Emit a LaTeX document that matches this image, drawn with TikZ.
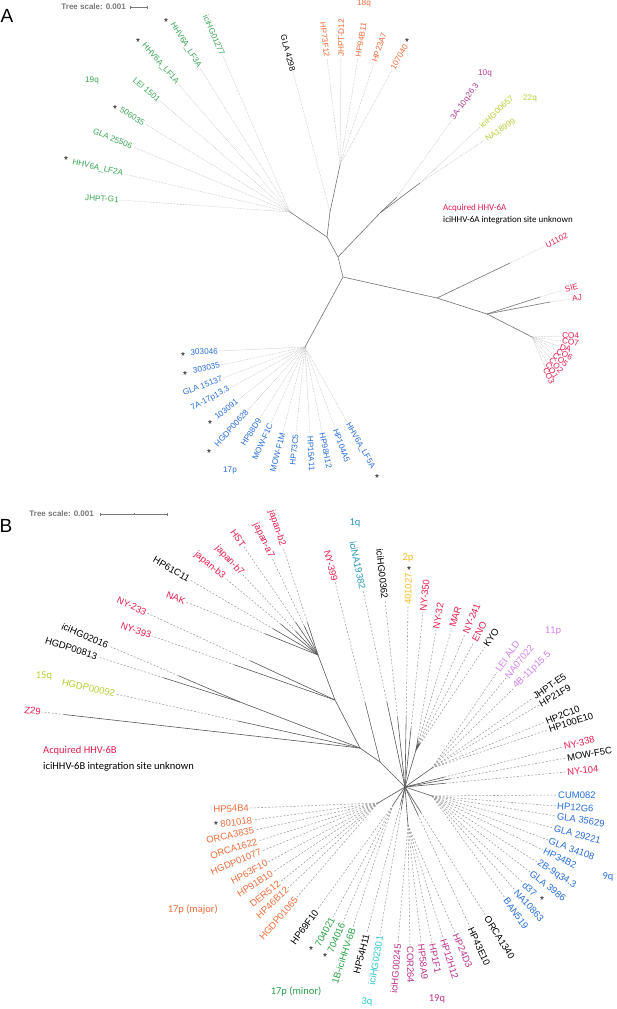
\documentclass[tikz,border=0pt]{standalone}
\usepackage{fontspec}
\setmainfont{Liberation Sans}
\newfontfamily\carl{Carlito}
\usetikzlibrary{calc}
\definecolor{cGa}{RGB}{58,166,85}
\definecolor{cGb}{RGB}{40,160,70}
\definecolor{cO}{RGB}{240,110,60}
\definecolor{cP}{RGB}{180,60,150}
\definecolor{cY}{RGB}{185,205,55}
\definecolor{cR}{RGB}{230,30,80}
\definecolor{cB}{RGB}{40,110,220}
\definecolor{cT}{RGB}{40,150,180}
\definecolor{cGo}{RGB}{245,190,40}
\definecolor{cL}{RGB}{210,130,240}
\definecolor{cC}{RGB}{40,200,210}
\definecolor{cM}{RGB}{190,50,140}
\definecolor{cS}{RGB}{120,120,120}
\newcounter{lfc}
\newcommand\lf[5]{%
  \stepcounter{lfc}%
  \edef\lfn{\arabic{lfc}}%
  \coordinate (e\lfn) at (#2);%
  \ifdim #3pt>0pt
    \coordinate (t\lfn) at ($(#1)!#3!(e\lfn)$);%
    \draw[lfbranch] (#1) -- (t\lfn);%
    \draw[lfline] (t\lfn) -- (e\lfn);%
  \else
    \draw[lfline] (#1) -- (e\lfn);%
  \fi
  \pgfpointdiff{\pgfpointanchor{#1}{center}}{\pgfpointanchor{e\lfn}{center}}%
  \pgfgetlastxy{\lfdx}{\lfdy}%
  \pgfmathsetmacro\lfang{atan2(\lfdy,\lfdx)}%
  \pgfmathsetmacro\lfside{abs(\lfang)>90 ? 1 : 0}%
  \ifdim\lfside pt>0.5pt
    \node[lflab,#5,rotate=\lfang+180,anchor=east] (n\lfn) at (e\lfn) {#4};%
  \else
    \node[lflab,#5,rotate=\lfang,anchor=west] (n\lfn) at (e\lfn) {#4};%
  \fi}
\begin{document}
\begin{tikzpicture}[x=1bp,y=-1bp,
  branchA/.style={draw=black!55,line width=0.6bp},
  dotA/.style={draw=black!25,line width=0.5bp,dash pattern=on 0.6bp off 0.9bp},
  branchB/.style={draw=black!65,line width=0.6bp},
  dashB/.style={draw=black!40,line width=0.55bp,dash pattern=on 1.8bp off 1.8bp},
  labA/.style={font=\fontsize{8.2bp}{9bp}\selectfont,inner sep=1bp},
  labB/.style={font=\fontsize{9.5bp}{10bp}\selectfont,inner sep=1bp},
  grpA/.style={font=\fontsize{8.2bp}{9bp}\selectfont,inner sep=0},
  grpB/.style={font=\carl\fontsize{10.5bp}{11bp}\selectfont,inner sep=0},
  ast/.style={font=\fontsize{10bp}{10bp}\selectfont,inner sep=0,yshift=-2bp},
  panel/.style={font=\fontsize{19bp}{20bp}\selectfont,inner sep=0},
  scaletxt/.style={font=\bfseries\fontsize{8bp}{9bp}\selectfont,text=cS,inner sep=0},
  scalebar/.style={draw=cS,line width=0.6bp},
  legA/.style={font=\carl\fontsize{9bp}{10bp}\selectfont,inner sep=0,anchor=west},
  legB/.style={font=\carl\fontsize{10.5bp}{11bp}\selectfont,inner sep=0,anchor=west}]
\fill[white] (0,0) rectangle (617,1009);
\useasboundingbox (0,0) rectangle (617,1009);

%%%%%%%%%%%%%%%% PANEL A
\node[panel] (pA) at (7,16) {A};
\node[scaletxt,anchor=east] (stA) at (126,7) {Tree scale: 0.001};
\coordinate (sa1) at (130,7); \coordinate (sa2) at (147,7);
\draw[scalebar] (sa1) -- (sa2);
\draw[scalebar] ([yshift=1.5bp]sa1) -- ([yshift=-1.5bp]sa1);
\draw[scalebar] ([yshift=1.5bp]sa2) -- ([yshift=-1.5bp]sa2);

\tikzset{lfline/.style=dotA, lfbranch/.style=branchA, lflab/.style=labA}
\coordinate (rA) at (338,257);
\coordinate (sA) at (343,277);
\coordinate (aA) at (327,237);
\coordinate (h19) at (290,212);
\coordinate (bA) at (330,212);
\coordinate (h18) at (340,165);
\coordinate (vA) at (380,213);
\coordinate (wA) at (397,197);
\coordinate (h22) at (420,183);
\coordinate (h17) at (305,347);
\coordinate (tA) at (437,298);
\coordinate (uA) at (487,314);
\coordinate (hCO) at (532,337);
\coordinate (w1) at (510,263);
\coordinate (w2) at (540,297);
\coordinate (w3) at (550,302);
\draw[branchA] (h19) -- (aA) -- (rA) -- (sA) -- (h17);
\draw[branchA] (aA) -- (bA) -- (h18);
\draw[branchA] (rA) -- (vA) -- (wA);
\draw[branchA] (vA) -- (h22);
\draw[branchA] (sA) -- (tA) -- (uA) -- (hCO);
\draw[branchA] (tA) -- (w1);
\draw[branchA] (uA) -- (w2);
\draw[branchA] (uA) -- (w3);

\lf{h19}{120,200}{0}{JHPT-G1}{text=cGa}
\lf{h19}{124,174}{0}{HHV6A\_LF2A}{text=cGa}
\lf{h19}{133,147}{0}{GLA 25506}{text=cGa}
\lf{h19}{145,124}{0}{506035}{text=cGa}
\lf{h19}{160,101}{0}{LEI 1501}{text=cGa}
\lf{h19}{178,84}{0}{HHV6A\_LF1A}{text=cGa}
\lf{h19}{200,68}{0}{HHV6A\_LF3A}{text=cGa}
\lf{h19}{223,56}{0}{iciHG01277}{text=cGa}
\lf{bA}{293,72}{0}{GLA 4298}{text=black}
\lf{h18}{327,58}{0}{HP73F12}{text=cO}
\lf{h18}{341,58}{0}{JHPT-D12}{text=cO}
\lf{h18}{358,58}{0}{HP94B11}{text=cO}
\lf{h18}{374,63}{0}{HP23A7}{text=cO}
\lf{h18}{392,70}{0}{107040}{text=cO}
\lf{wA}{452,120}{0}{3A-10q26.3}{text=cP}
\lf{h22}{480,127}{0}{iciHG00657}{text=cY}
\lf{h22}{485,140}{0}{NA18999}{text=cY}
\lf{w1}{545,246}{0}{U1102}{text=cR}
\lf{w2}{564,290}{0}{SIE}{text=cR}
\lf{w3}{571,299}{0}{AJ}{text=cR}
\lf{hCO}{561,336}{0}{CO4}{text=cR}
\lf{hCO}{561,341}{0}{CO7}{text=cR}
\lf{hCO}{559,346}{0}{DA}{text=cR}
\lf{hCO}{556,350}{0}{CO6}{text=cR}
\lf{hCO}{553,354}{0}{CO5}{text=cR}
\lf{hCO}{550,358}{0}{CO2}{text=cR}
\lf{hCO}{547,362}{0}{CO1}{text=cR}
\lf{hCO}{545,367}{0}{CO3}{text=cR}
\lf{h17}{219,351}{0}{303046}{text=cB}
\lf{h17}{221,365}{0}{303035}{text=cB}
\lf{h17}{223,378}{0}{GLA 15137}{text=cB}
\lf{h17}{230,388}{0}{7A-17p13.3}{text=cB}
\lf{h17}{238,400}{0}{103091}{text=cB}
\lf{h17}{248,410}{0}{HGDP00628}{text=cB}
\lf{h17}{260,418}{0}{HP88D9}{text=cB}
\lf{h17}{271,423}{0}{MOW-F1C}{text=cB}
\lf{h17}{283,432}{0}{MOW-F1M}{text=cB}
\lf{h17}{296,433}{0}{HP73C5}{text=cB}
\lf{h17}{310,435}{0}{HP15A11}{text=cB}
\lf{h17}{322,432}{0}{HP98H12}{text=cB}
\lf{h17}{335,428}{0}{HP104A5}{text=cB}
\lf{h17}{347,422}{0}{HHV6A\_LF5A}{text=cB}

\node[ast] (aa1) at (166,20) {*};
\node[ast] (aa2) at (138,40) {*};
\node[ast] (aa3) at (115,107) {*};
\node[ast] (aa4) at (66,158) {*};
\node[ast] (aa5) at (407,40) {*};
\node[ast] (aa6) at (183,354) {*};
\node[ast] (aa7) at (185,373) {*};
\node[ast] (aa8) at (210,422) {*};
\node[ast] (aa9) at (209,451) {*};
\node[ast] (aa10) at (377,476) {*};

\node[grpA,text=cGa] (g19q) at (92,80) {19q};
\node[grpA,text=cO] (g18q) at (364,3) {18q};
\node[grpA,text=cP] (g10q) at (485,73) {10q};
\node[grpA,text=cY] (g22q) at (530,98) {22q};
\node[grpA,text=cB] (g17p) at (230,471) {17p};
\node[legA,text=cR] (acqA) at (443,208) {Acquired HHV-6A};
\node[legA,text=black] (unkA) at (443,220) {iciHHV-6A integration site unknown};

%%%%%%%%%%%%%%%% PANEL B
\node[panel] (pB) at (6,526) {B};
\node[scaletxt,anchor=east] (stB) at (94,514) {Tree scale: 0.001};
\coordinate (sb1) at (100,514); \coordinate (sb2) at (167,514); \coordinate (sbm) at (134,514);
\draw[scalebar] (sb1) -- (sb2);
\draw[scalebar] ([yshift=1.5bp]sb1) -- ([yshift=-1.5bp]sb1);
\draw[scalebar] ([yshift=1.5bp]sb2) -- ([yshift=-1.5bp]sb2);
\draw[scalebar] ([yshift=1bp]sbm) -- ([yshift=-1bp]sbm);

\tikzset{lfline/.style=dashB, lfbranch/.style=branchB, lflab/.style=labB}
\coordinate (C) at (405,787);
\coordinate (M0) at (380,762);
\coordinate (M1) at (360,748);
\coordinate (Na) at (240,702);
\coordinate (Nb) at (335,700);
\coordinate (Nc) at (318,655);
\coordinate (Nd) at (416,750);
\coordinate (Ne) at (432,768);
\coordinate (Nf) at (432,796);
\coordinate (Ng) at (408,825);
\coordinate (Nh) at (393,805);
\coordinate (Ni) at (378,803);
\draw[branchB] (C) -- (M0) -- (M1) -- (Na);
\draw[branchB] (M1) -- (Nb) -- (Nc);
\draw[branchB] (C) -- (Nd);
\draw[branchB] (C) -- (Ne);
\draw[branchB] (C) -- (Nf);
\draw[branchB] (C) -- (Ng);
\draw[branchB] (C) -- (Nh);
\draw[branchB] (C) -- (Ni);

\lf{M1}{42,712}{0.93}{Z29}{text=cR}
\lf{M1}{116,694}{0.5}{HGDP00092}{text=cY}
\lf{Na}{98,657}{0.54}{HGDP00813}{text=black}
\lf{Na}{109,646}{0.47}{iciHG02016}{text=black}
\lf{Nb}{152,636}{0.55}{NY-393}{text=cR}
\lf{Nb}{147,613}{0.45}{NY-233}{text=cR}
\lf{Nc}{186,602}{0.4}{NAK}{text=cR}
\lf{Nc}{190,580}{0.35}{HP61C11}{text=black}
\lf{Nc}{225,578}{0.4}{japan-b3}{text=cR}
\lf{Nc}{243,575}{0.3}{japan-b7}{text=cR}
\lf{Nc}{244,547}{0.3}{HST}{text=cR}
\lf{Nc}{272,558}{0.3}{japan-a7}{text=cR}
\lf{Nc}{283,547}{0.3}{japan-b2}{text=cR}
\lf{M0}{335,582}{0.33}{NY-399}{text=cR}
\lf{C}{363,590}{0.43}{iciNA19382}{text=cT}
\lf{C}{385,600}{0.37}{iciHG00362}{text=black}
\lf{C}{408,606}{0.39}{401027}{text=cGo}
\lf{C}{423,612}{0.34}{NY-350}{text=cR}
\lf{Nd}{436,630}{0.1}{NY-32}{text=cR}
\lf{Nd}{452,628}{0.06}{MAR}{text=cR}
\lf{Nd}{465,634}{0.06}{NY-241}{text=cR}
\lf{Nd}{474,642}{0.06}{ENO}{text=cR}
\lf{Nd}{485,647}{0.06}{KYO}{text=black}
\lf{Ne}{497,672}{0}{LEI ALD}{text=cL}
\lf{Ne}{506,678}{0}{NA07022}{text=cL}
\lf{Ne}{514,688}{0}{4B-11p15.5}{text=cL}
\lf{Ne}{533,698}{0}{JHPT-E5}{text=black}
\lf{Ne}{539,705}{0}{HP21F9}{text=black}
\lf{Ne}{545,722}{0}{HP2C10}{text=black}
\lf{Ne}{548,730}{0}{HP100E10}{text=black}
\lf{C}{563,747}{0.25}{NY-338}{text=cR}
\lf{C}{566,758}{0.28}{MOW-F5C}{text=black}
\lf{C}{566,772}{0.25}{NY-104}{text=cR}
\lf{Nf}{557,795}{0}{CUM082}{text=cB}
\lf{Nf}{556,806}{0}{HP12G6}{text=cB}
\lf{Nf}{556,816}{0}{GLA 35629}{text=cB}
\lf{Nf}{553,828}{0}{GLA 29221}{text=cB}
\lf{Nf}{548,840}{0}{GLA 34108}{text=cB}
\lf{Nf}{543,850}{0}{HP34B2}{text=cB}
\lf{Nf}{537,862}{0}{2B-9q34.3}{text=cB}
\lf{Nf}{530,872}{0}{GLA 3986}{text=cB}
\lf{Nf}{523,883}{0}{d37}{text=cB}
\lf{Nf}{515,890}{0}{NA10863}{text=cB}
\lf{Nf}{505,898}{0}{BAN519}{text=cB}
\lf{C}{486,916}{0.2}{ORCA1340}{text=black}
\lf{C}{470,927}{0.2}{HP43E10}{text=black}
\lf{Ng}{455,933}{0}{HP24D3}{text=cM}
\lf{Ng}{443,938}{0}{HP12H12}{text=cM}
\lf{Ng}{432,943}{0}{HP1F1}{text=cM}
\lf{Ng}{421,943}{0}{HP58A9}{text=cM}
\lf{Ng}{410,945}{0}{COR264}{text=cM}
\lf{Ng}{398,943}{0}{iciHG00245}{text=cM}
\lf{C}{380,935}{0.15}{iciHG02301}{text=cC}
\lf{C}{367,933}{0.12}{HP54H11}{text=black}
\lf{Nh}{353,927}{0}{1B-iciHHV-6B}{text=cGb}
\lf{Nh}{343,922}{0}{704016}{text=cGb}
\lf{Nh}{333,917}{0}{704021}{text=cGb}
\lf{Nh}{317,910}{0}{HP69F10}{text=black}
\lf{Ni}{250,808}{0}{HP54B4}{text=cO}
\lf{Ni}{253,820}{0}{801018}{text=cO}
\lf{Ni}{255,830}{0}{ORCA3835}{text=cO}
\lf{Ni}{258,841}{0}{ORCA1622}{text=cO}
\lf{Ni}{262,851}{0}{HGDP01077}{text=cO}
\lf{Ni}{268,862}{0}{HP63F10}{text=cO}
\lf{Ni}{273,872}{0}{HP91B10}{text=cO}
\lf{Ni}{280,882}{0}{DER512}{text=cO}
\lf{Ni}{288,888}{0}{HP46B12}{text=cO}
\lf{Ni}{297,897}{0}{HGDP01065}{text=cO}

\node[ast] (ab1) at (216,823) {*};
\node[ast] (ab2) at (409,568) {*};
\node[ast] (ab3) at (542,898) {*};
\node[ast] (ab4) at (311,948) {*};
\node[ast] (ab5) at (325,955) {*};

\node[grpB,text=cY] (g15q) at (44,676) {15q};
\node[grpB,text=cT] (g1q) at (355,523) {1q};
\node[grpB,text=cGo] (g2p) at (408,558) {2p};
\node[grpB,text=cL] (g11p) at (553,631) {11p};
\node[grpB,text=cB] (g9q) at (608,877) {9q};
\node[grpB,text=cM] (gb19q) at (437,999) {19q};
\node[grpB,text=cC] (g3q) at (367,1002) {3q};
\node[grpB,text=cGb] (g17min) at (296,991) {17p (minor)};
\node[grpB,text=cO,anchor=east] (g17maj) at (218,910) {17p (major)};
\node[legB,text=cR] (acqB) at (43,751) {Acquired HHV-6B};
\node[legB,text=black] (unkB) at (43,767) {iciHHV-6B integration site unknown};
\end{tikzpicture}
\end{document}
